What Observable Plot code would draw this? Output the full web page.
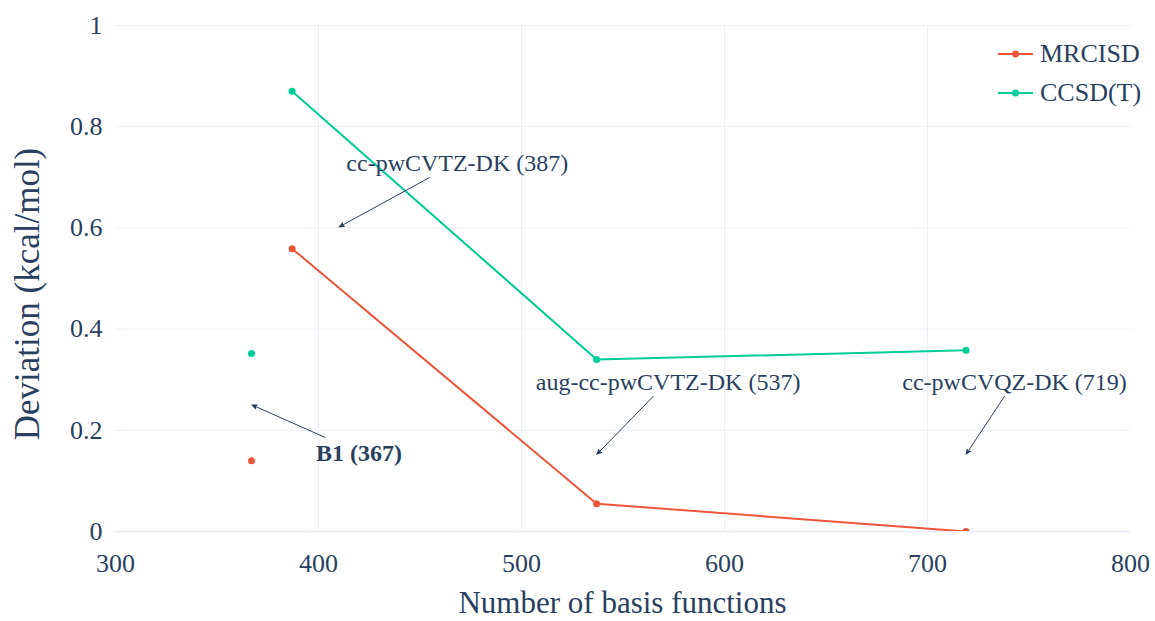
<!DOCTYPE html>
<html>
<head>
<meta charset="utf-8">
<script src="https://cdn.jsdelivr.net/npm/d3@7"></script>
<script src="https://cdn.jsdelivr.net/npm/@observablehq/plot@0.6"></script>
<style>
  body { margin: 0; background: #fff; }
  #chart { position: relative; width: 1155px; height: 621px; font-family: "Liberation Serif", "Times New Roman", serif; color: #2a3f5f; }
  .legend-row { position: absolute; left: 998px; height: 30px; display: flex; align-items: center; font-size: 26px; white-space: nowrap; }
  .legend-row svg { margin-right: 7px; }
</style>
</head>
<body>
<div id="chart"></div>
<script>
// Series
const seriesNames = ["MRCISD", "CCSD(T)"];
const seriesColors = ["#EF553B", "#00CC96"];

// cc-pwCVnZ-DK basis sets (joined by a line): number of basis functions and deviations
const ccBasisSize = [387, 537, 719];
const mrcisdCc = [0.559, 0.055, 0.0];
const ccsdtCc = [0.870, 0.340, 0.358];

// B1 basis set (standalone points)
const b1BasisSize = [367];
const mrcisdB1 = [0.140];
const ccsdtB1 = [0.352];

// Axes
const xTicks = [300, 400, 500, 600, 700, 800];
const yTicks = [0, 0.2, 0.4, 0.6, 0.8, 1];
const xTitle = "Number of basis functions";
const yTitle = "Deviation (kcal/mol)";

// Arrow notes: label, point the arrow targets, label-centre offset in px
const noteLabels = ["cc-pwCVTZ-DK (387)", "B1 (367)", "aug-cc-pwCVTZ-DK (537)", "cc-pwCVQZ-DK (719)"];
const noteX = [410, 367, 537, 719];
const noteY = [0.6, 0.25, 0.15, 0.15];
const noteDx = [119, 108, 72, 49];
const noteDy = [-65, 48, -74, -74];
const noteBold = [false, true, false, false];

const ink = "#2a3f5f";
const gridColor = "#ebf0f8";

const ccRows = [
  ...ccBasisSize.map((n, i) => ({n, v: mrcisdCc[i], s: seriesNames[0]})),
  ...ccBasisSize.map((n, i) => ({n, v: ccsdtCc[i], s: seriesNames[1]}))
];
const b1Rows = [
  ...b1BasisSize.map((n, i) => ({n, v: mrcisdB1[i], s: seriesNames[0]})),
  ...b1BasisSize.map((n, i) => ({n, v: ccsdtB1[i], s: seriesNames[1]}))
];

// Arrows with their labels, placed relative to the target point
function notes(index, scales) {
  const g = d3.create("svg:g").attr("fill", ink).attr("stroke", "none");
  const halfBox = 15;
  noteLabels.forEach((label, i) => {
    const px = scales.x(noteX[i]), py = scales.y(noteY[i]);
    const cx = px + noteDx[i], cy = py + noteDy[i];
    const t = halfBox / Math.abs(noteDy[i]);
    const tx = cx - t * noteDx[i], ty = cy - t * noteDy[i];
    const ang = Math.atan2(py - ty, px - tx);
    const L = 7, w = 0.42;
    const bx = px - 0.8 * L * Math.cos(ang), by = py - 0.8 * L * Math.sin(ang);
    g.append("line")
      .attr("x1", tx).attr("y1", ty).attr("x2", bx).attr("y2", by)
      .attr("stroke", ink).attr("stroke-width", 1);
    g.append("path")
      .attr("d", `M${px},${py}L${px - L * Math.cos(ang - w)},${py - L * Math.sin(ang - w)}L${bx},${by}L${px - L * Math.cos(ang + w)},${py - L * Math.sin(ang + w)}Z`)
      .attr("fill", ink);
    g.append("text")
      .attr("x", cx).attr("y", cy).attr("dy", "0.35em")
      .attr("text-anchor", "middle")
      .attr("font-size", 24)
      .attr("font-weight", noteBold[i] ? "bold" : null)
      .text(label);
  });
  return g.node();
}

// Axis titles
function titles(index, scales, values, dims) {
  const g = d3.create("svg:g").attr("fill", ink);
  const {width, height, marginLeft, marginRight} = dims;
  g.append("text")
    .attr("x", (marginLeft + width - marginRight) / 2)
    .attr("y", height - 8)
    .attr("text-anchor", "middle")
    .attr("font-size", 31)
    .text(xTitle);
  g.append("text")
    .attr("transform", `translate(39,294) rotate(-90)`)
    .attr("text-anchor", "middle")
    .attr("font-size", 35)
    .text(yTitle);
  return g.node();
}

const chart = Plot.plot({
  width: 1155,
  height: 621,
  marginLeft: 115,
  marginRight: 25,
  marginTop: 25,
  marginBottom: 90,
  style: {fontFamily: "'Liberation Serif', 'Times New Roman', serif", fontSize: "26px", color: ink, background: "transparent"},
  x: {domain: [300, 800], ticks: xTicks, tickSize: 0, tickPadding: 22, tickFormat: d => String(d), label: null},
  y: {domain: [0, 1], ticks: yTicks, tickSize: 0, tickPadding: 13, tickFormat: d => String(+d.toFixed(1)), label: null},
  color: {domain: seriesNames, range: seriesColors},
  marks: [
    Plot.ruleX(xTicks.filter(d => d > 300 && d < 800), {stroke: gridColor, strokeWidth: 1}),
    Plot.ruleY(yTicks.filter(d => d > 0), {stroke: gridColor, strokeWidth: 1}),
    Plot.ruleY([0], {stroke: gridColor, strokeWidth: 2}),
    Plot.line(ccRows, {x: "n", y: "v", z: "s", stroke: "s", strokeWidth: 2, clip: true}),
    Plot.dot(ccRows, {x: "n", y: "v", fill: "s", r: 3.5, clip: true}),
    Plot.dot(b1Rows, {x: "n", y: "v", fill: "s", r: 3.5}),
    notes,
    titles
  ]
});

const host = document.getElementById("chart");
host.appendChild(chart);

// Legend drawn over the top-right corner of the plot area
seriesNames.forEach((name, i) => {
  const row = document.createElement("div");
  row.className = "legend-row";
  row.style.top = (54 + 39 * i - 15) + "px";
  row.innerHTML = `<svg width="35" height="12"><line x1="0" y1="6" x2="35" y2="6" stroke="${seriesColors[i]}" stroke-width="2"/><circle cx="17.5" cy="6" r="3.5" fill="${seriesColors[i]}"/></svg><span>${name}</span>`;
  host.appendChild(row);
});
</script>
</body>
</html>
